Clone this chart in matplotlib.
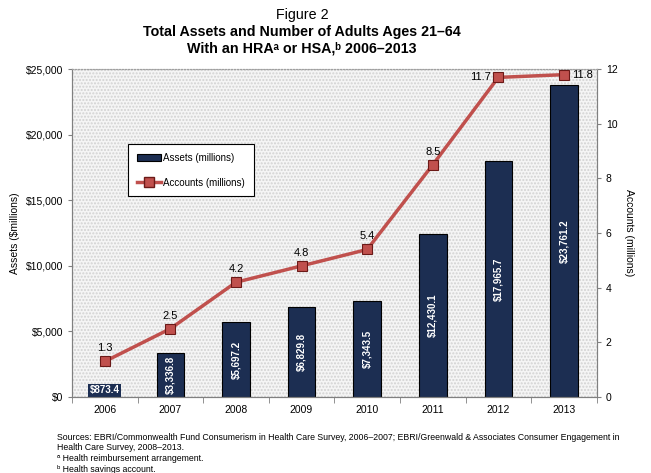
import matplotlib.pyplot as plt
import numpy as np
from matplotlib.patches import Rectangle
from matplotlib.lines import Line2D
from matplotlib.patches import Patch

years = ["2006", "2007", "2008", "2009", "2010", "2011", "2012", "2013"]
assets = [873.4, 3336.8, 5697.2, 6829.8, 7343.5, 12430.1, 17965.7, 23761.2]
asset_labels = ["$873.4", "$3,336.8", "$5,697.2", "$6,829.8", "$7,343.5", "$12,430.1", "$17,965.7", "$23,761.2"]
accounts = [1.3, 2.5, 4.2, 4.8, 5.4, 8.5, 11.7, 11.8]

plt.rcParams['font.family'] = ['Liberation Sans', 'DejaVu Sans']

bar_color = '#1c2e52'
line_color = '#c0504d'

fig = plt.figure(figsize=(6.51, 4.73), dpi=100)
ax = fig.add_axes([0.1106, 0.1607, 0.806, 0.693])
ax2 = ax.twinx()

x = np.arange(len(years))

# plot area pattern
ax.set_facecolor('#f5f5f5')
ax.add_patch(Rectangle((0, 0), 1, 1, transform=ax.transAxes, facecolor='none',
                       edgecolor='#d2d2d2', hatch='.....', linewidth=0, zorder=0))

bars = ax.bar(x, assets, 0.42, color=bar_color, edgecolor='black', linewidth=0.8, zorder=2)
ax.set_xlim(-0.5, len(years) - 0.5)
ax.set_ylim(0, 25000)
ax.set_yticks(np.arange(0, 25001, 5000))
ax.set_yticklabels(["$0", "$5,000", "$10,000", "$15,000", "$20,000", "$25,000"], fontsize=7.5)
ax.set_xticks(x)
ax.set_xticklabels(years, fontsize=7.5)
ax.set_xticks(np.arange(-0.5, len(years)), minor=True)
ax.tick_params(axis='x', which='major', length=0, pad=6)
ax.tick_params(axis='x', which='minor', length=4, color='#808080')
ax.tick_params(axis='y', length=3, color='#808080')
ax.set_ylabel("Assets ($millions)", fontsize=7.5)

for i, (v, lab) in enumerate(zip(assets, asset_labels)):
    if v < 2000:
        ax.text(i, 500, lab, ha='center', va='center', color='white', fontsize=7, fontweight='bold',
                bbox=dict(facecolor=bar_color, edgecolor='none', pad=1), zorder=4)
    else:
        ax.text(i, v / 2, lab, ha='center', va='center', color='white', fontsize=7, fontweight='bold',
                rotation=90, zorder=4)

ax2.plot(x, accounts, color=line_color, linewidth=2.5, marker='s', markersize=6.5,
         markerfacecolor=line_color, markeredgecolor='#6b1a18', markeredgewidth=0.8, zorder=3)
ax2.set_ylim(0, 12)
ax2.set_yticks(np.arange(0, 13, 2))
ax2.tick_params(axis='y', labelsize=7.5, length=3, color='#808080')
ax2.set_ylabel("Accounts (millions)", fontsize=7.5, rotation=270, labelpad=12)

for i, v in enumerate(accounts):
    if i == 6:
        ax2.text(i - 0.12, v, f"{v}", ha='right', va='center', fontsize=8)
    elif i == 7:
        ax2.text(i + 0.12, v, f"{v}", ha='left', va='center', fontsize=8)
    else:
        ax2.text(i, v + 0.3, f"{v}", ha='center', va='bottom', fontsize=8)

for a in (ax, ax2):
    a.spines['top'].set_linestyle(':')
    a.spines['top'].set_color('#a0a0a0')
    for s in ('left', 'right', 'bottom'):
        a.spines[s].set_color('#808080')

handles = [Patch(facecolor=bar_color, edgecolor='black', linewidth=0.8),
           Line2D([0], [0], color=line_color, linewidth=2.5, marker='s', markersize=6.5,
                  markerfacecolor=line_color, markeredgecolor='#6b1a18')]
leg = ax2.legend(handles, ["Assets (millions)", "Accounts (millions)"], loc='upper left',
                 bbox_to_anchor=(0.098, 0.786), fontsize=7, frameon=True, fancybox=False,
                 edgecolor='black', framealpha=1, labelspacing=1.5, handlelength=2.5,
                 handletextpad=0.2, borderpad=0.9)
leg.get_frame().set_linewidth(0.8)

fig.text(0.464, 0.968, "Figure 2", ha='center', va='center', fontsize=10.3)
fig.text(0.464, 0.932, "Total Assets and Number of Adults Ages 21\u201364", ha='center', va='center',
         fontsize=10.3, fontweight='bold')
fig.text(0.464, 0.898, "With an HRA\u1d43 or HSA,\u1d47 2006\u20132013", ha='center', va='center',
         fontsize=10.3, fontweight='bold')

fig.text(0.088, 0.065, "Sources: EBRI/Commonwealth Fund Consumerism in Health Care Survey, 2006\u20132007; "
         "EBRI/Greenwald & Associates Consumer Engagement in\nHealth Care Survey, 2008\u20132013.",
         ha='left', va='center', fontsize=6.3, linespacing=1.2)
fig.text(0.088, 0.030, "\u1d43 Health reimbursement arrangement.", ha='left', va='center', fontsize=6.3)
fig.text(0.088, 0.008, "\u1d47 Health savings account.", ha='left', va='center', fontsize=6.3)

fig.savefig("out.png", dpi=100)
